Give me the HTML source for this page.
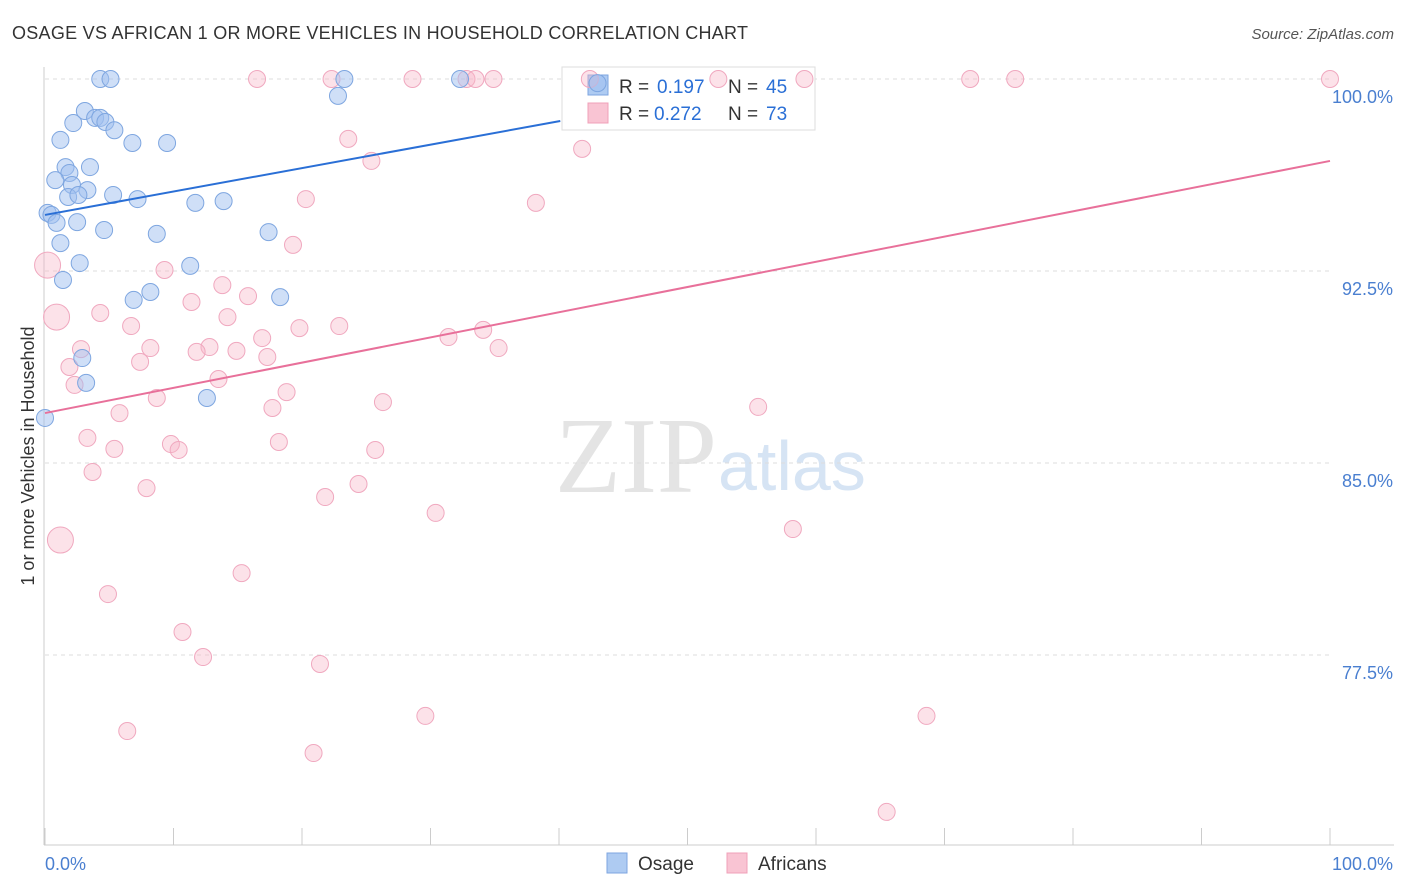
<!DOCTYPE html>
<html><head><meta charset="utf-8"><style>
body{margin:0;background:#fff;font-family:"Liberation Sans",sans-serif;}
svg{display:block}
</style></head><body>
<svg id="chart" width="1406" height="892">
<text x="12" y="39" font-size="18" fill="#333" textLength="736">OSAGE VS AFRICAN 1 OR MORE VEHICLES IN HOUSEHOLD CORRELATION CHART</text>
<text x="1394" y="39" font-size="15" fill="#555" font-style="italic" text-anchor="end">Source: ZipAtlas.com</text>
<text x="555" y="492" font-size="108" fill="#e4e4e4" font-family="Liberation Serif">ZIP</text>
<text x="718" y="490" font-size="70" fill="#d6e4f4">atlas</text>
<g id="grid"></g>
<g id="axes"></g>
<g>
<rect x="562" y="67" width="253" height="63" fill="#fff" stroke="#ddd"/>
<rect x="588" y="75" width="20" height="20" fill="#aecbf2" stroke="#7ea6e0"/>
<text x="619" y="93" font-size="19" fill="#333">R = </text>
<text x="657" y="93" font-size="19" fill="#2a6fd6">0.197</text>
<text x="728" y="93" font-size="19" fill="#333">N = </text>
<text x="766" y="93" font-size="19" fill="#2a6fd6">45</text>
<rect x="588" y="103" width="20" height="20" fill="#f9c4d3" stroke="#f0a0b8"/>
<text x="619" y="120" font-size="19" fill="#333">R = </text>
<text x="654" y="120" font-size="19" fill="#2a6fd6">0.272</text>
<text x="728" y="120" font-size="19" fill="#333">N = </text>
<text x="766" y="120" font-size="19" fill="#2a6fd6">73</text>
</g>
<g id="pts"></g>
<g id="lines"></g>
<text transform="translate(34,456) rotate(-90)" font-size="18" fill="#333" text-anchor="middle">1 or more Vehicles in Household</text>
<text x="45" y="870" font-size="18" fill="#4a7fd0">0.0%</text>
<text x="1393" y="870" font-size="18" fill="#4a7fd0" text-anchor="end">100.0%</text>
<g>
<rect x="607" y="853" width="20" height="20" fill="#aecbf2" stroke="#7ea6e0"/>
<text x="638" y="870" font-size="19" fill="#333">Osage</text>
<rect x="727" y="853" width="20" height="20" fill="#f9c4d3" stroke="#f0a0b8"/>
<text x="758" y="870" font-size="19" fill="#333">Africans</text>
</g>
</svg>
<script>
const yTicks=[100,92.5,85,77.5];
const yTickLabels=["100.0%","92.5%","85.0%","77.5%"];
const xTicks=[0,10,20,30,40,50,60,70,80,90,100];
const osageX=[4.3,5.1,32.3,23.3,22.8,3.1,3.9,4.3,4.7,2.2,5.4,1.2,6.8,9.5,1.6,3.5,1.9,0.8,2.1,3.3,1.8,2.6,5.3,7.2,11.7,13.9,0.2,0.5,0.9,2.5,4.6,8.7,17.4,1.2,2.7,11.3,1.4,8.2,6.9,18.3,2.9,3.2,12.6,0,43.0];
const osageY=[100,100,100,100,99.34,98.75,98.48,98.48,98.32,98.28,98.0,97.62,97.5,97.5,96.56,96.56,96.33,96.05,95.86,95.66,95.39,95.47,95.47,95.31,95.16,95.23,94.77,94.69,94.38,94.41,94.1,93.95,94.02,93.59,92.81,92.7,92.15,91.68,91.37,91.48,89.1,88.13,87.54,86.76,99.84];
const afrX=[16.5,22.3,28.6,32.8,33.5,34.9,42.4,52.4,59.1,72.0,75.5,100,23.6,41.8,25.4,20.3,38.2,19.3,0.2,9.3,13.8,15.8,11.4,0.9,14.2,4.3,6.7,19.8,22.9,16.9,34.1,31.4,8.2,2.8,12.8,14.9,11.8,35.3,17.3,7.4,1.9,13.5,2.3,18.8,8.7,26.3,17.7,5.8,55.5,3.3,9.8,5.4,10.4,18.2,25.7,3.7,7.9,24.4,21.8,30.4,58.2,1.2,15.3,4.9,10.7,12.3,21.4,29.6,68.6,6.4,20.9,65.5];
const afrY=[100,100,100,100,100,100,100,100,100,100,100,100,97.66,97.27,96.8,95.31,95.16,93.52,92.73,92.54,91.95,91.52,91.29,90.7,90.7,90.86,90.35,90.27,90.35,89.88,90.2,89.92,89.49,89.45,89.53,89.38,89.34,89.49,89.14,88.95,88.75,88.28,88.05,87.77,87.54,87.38,87.15,86.95,87.19,85.98,85.74,85.55,85.51,85.82,85.51,84.65,84.02,84.18,83.67,83.05,82.42,81.99,80.7,79.88,78.4,77.42,77.15,75.12,75.12,74.53,73.67,71.37];
const afrBig=[18,23,61];
const osageTrend=[[0,94.69],[40.1,98.36]];
const afrTrend=[[0,86.95],[100,96.8]];
const NS="http://www.w3.org/2000/svg";
const X=v=>45+v*12.85, Y=v=>79+(100-v)*25.6;
function mk(t,a,p){const e=document.createElementNS(NS,t);for(const k in a)e.setAttribute(k,a[k]);document.getElementById(p).appendChild(e);return e;}
yTicks.forEach((t,i)=>{
 const l=mk('line',{x1:45,x2:1330,y1:Y(t),y2:Y(t),stroke:'#ddd','stroke-dasharray':'4,4'},'grid');
 
 
 const tx=mk('text',{x:1393,y:Y(t)+24,'font-size':18,fill:'#4a7fd0','text-anchor':'end'},'grid');
 tx.textContent=yTickLabels[i];
 
 
});
const ya=mk('line',{x1:44,x2:44,y1:67,y2:845,stroke:'#ccc'},'axes');


const xa=mk('line',{x1:44,x2:1394,y1:845,y2:845,stroke:'#ccc'},'axes');


xTicks.forEach(t=>{
 const l=mk('line',{x1:X(t),x2:X(t),y1:828,y2:845,stroke:'#ccc'},'axes');
 
 
});
afrX.forEach((x,i)=>{
 const c=mk('circle',{cx:X(x),cy:Y(afrY[i]),r:afrBig.includes(i)?13:8.5,fill:'rgba(248,182,200,0.4)',stroke:'#f0a8bf','stroke-width':1},'pts');
 
 
});
osageX.forEach((x,i)=>{
 const c=mk('circle',{cx:X(x),cy:Y(osageY[i]),r:8.5,fill:'rgba(160,192,240,0.5)',stroke:'#7ea6e0','stroke-width':1},'pts');
 
 
});
const lb=mk('line',{x1:X(osageTrend[0][0]),y1:Y(osageTrend[0][1]),x2:X(osageTrend[1][0]),y2:Y(osageTrend[1][1]),stroke:'#2a6fd6','stroke-width':2},'lines');


const lp=mk('line',{x1:X(afrTrend[0][0]),y1:Y(afrTrend[0][1]),x2:X(afrTrend[1][0]),y2:Y(afrTrend[1][1]),stroke:'#e8709a','stroke-width':2},'lines');


</script>
</body></html>
